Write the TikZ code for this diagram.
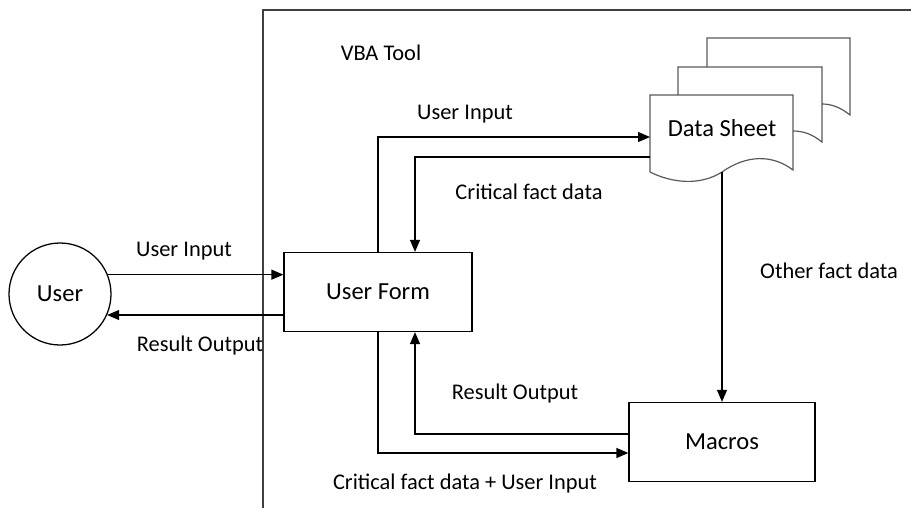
\documentclass[tikz,border=0pt]{standalone}
\usepackage{fontspec}
\setmainfont{Carlito}
\usetikzlibrary{arrows.meta,positioning}

\begin{document}
\begin{tikzpicture}[x=0.75pt,y=-0.75pt,line width=0.95pt,
  >={Triangle[length=9pt,width=7.5pt]},
  block/.style={draw,minimum width=141pt,minimum height=59.25pt,inner sep=0pt,font=\fontsize{18.4}{20}\selectfont},
  lbl/.style={font=\fontsize{16.8}{18}\selectfont,inner sep=0pt},
  sheet/.style={draw=black!65,line width=0.9pt}]
\useasboundingbox (0,0) rectangle (911,508);
% tool frame
\draw[line width=1.4pt,black!75] (263,508) -- (263,10) -- (911,10);
\node[lbl] (tool) at (381,53) {VBA Tool};
% nodes
\node[draw,circle,minimum size=76.5pt,inner sep=0pt,font=\fontsize{18.4}{20}\selectfont] (user) at (60,294) {User};
\node[block] (form) at (378,292) {User Form};
\node[block,minimum width=139.5pt] (macros) at (722,442) {Macros};
\node[font=\fontsize{18.4}{20}\selectfont,inner sep=0pt] (sheet) at (722,128) {Data Sheet};
% data sheet stack
\draw[sheet] (707,67) -- (707,38) -- (850,38) -- (850,115) .. controls (840,107) and (831,104) .. (822,104);
\draw[sheet] (678,95) -- (678,67) -- (822,67) -- (822,142) .. controls (812,134) and (803,131) .. (793,131);
\draw[sheet] (650,172) -- (650,95) -- (793,95) -- (793,170)
  .. controls (772,154) and (746,155) .. (722,172)
  .. controls (700,186) and (672,183) .. (650,172);
\coordinate (sheetIn) at (650,137);
\coordinate (sheetOut) at (650,157);
\coordinate (sheetBot) at (722,172);
% connectors
\draw[->] (user.22) -- (user.22 -| form.west);
\draw[->] (form.west |- user.-24) -- (user.-24);
\draw[->] (form.north) |- (sheetIn);
\draw[->] (sheetOut) -| ([xshift=27.75pt]form.north);
\draw[->] (sheetBot) -- (macros.north);
\draw[->] ([yshift=6pt]macros.west) -| ([xshift=27.75pt]form.south);
\draw[->] (form.south) |- ([yshift=-8.25pt]macros.west);
% labels
\node[lbl] (inLeft) at (184,251) {User Input};
\node[lbl] (outLeft) at (200,346) {Result Output};
\node[lbl] (inTop) at (465,114) {User Input};
\node[lbl] (factTop) at (529,192) {Critical fact data};
\node[lbl] (factRight) at (829,271) {Other fact data};
\node[lbl] (outBot) at (515,394) {Result Output};
\node[lbl] (inBot) at (465,484) {Critical fact data + User Input};
\end{tikzpicture}
\end{document}
